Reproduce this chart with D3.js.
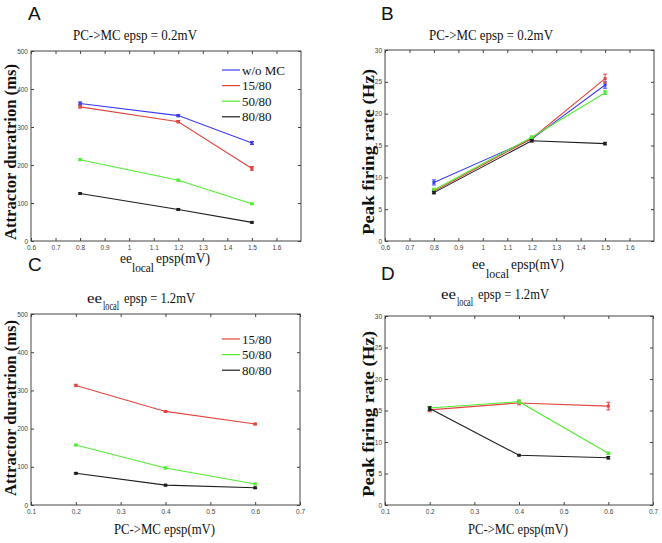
<!DOCTYPE html>
<html><head><meta charset="utf-8">
<script src="https://cdn.jsdelivr.net/npm/d3@7"></script>
<style>body{margin:0;background:#fff}svg{display:block}</style>
</head><body>
<script>
// ---------- data ----------
const seriesNames = ["w/o MC","15/80","50/80","80/80"];
const seriesColors = ["#3b3bf0","#e0453f","#52ec33","#1e1e1e"];

const xA = [0.8,1.2,1.5];
const durA = [[362,330,258],[353,314,191],[214,160,98],[125,83,49]];
const durAErr = [[4,3,4],[3,3,5],[2,3,2],[2,2,2]];

const xB = [0.8,1.2,1.5];
const rateB = [[9.2,16.0,24.5],[7.8,16.1,25.5],[8.0,16.3,23.3],[7.6,15.75,15.3]];
const rateBErr = [[0.4,0.2,0.5],[0.3,0.2,0.7],[0.3,0.2,0.3],[0.2,0.2,0.2]];

const xC = [0.2,0.4,0.6];
const durC = [[313,245,212],[157,97,55],[83,52,45]];
const durCErr = [[3,2,2],[2,2,2],[2,2,2]];

const xD = [0.2,0.4,0.6];
const rateD = [[15.1,16.2,15.7],[15.4,16.4,8.2],[15.3,7.9,7.5]];
const rateDErr = [[0.3,0.3,0.6],[0.2,0.3,0.2],[0.3,0.1,0.2]];

const xTicksAB = [0.6,0.7,0.8,0.9,1,1.1,1.2,1.3,1.4,1.5,1.6];
const xTicksCD = [0.1,0.2,0.3,0.4,0.5,0.6,0.7];
const yTicksDur = [0,100,200,300,400,500];
const yTicksRate = [0,5,10,15,20,25,30];

// ---------- drawing ----------
const W=662,H=543;
const svg=d3.select("body").append("svg").attr("width",W).attr("height",H);
const serif="Liberation Serif, Times New Roman, DejaVu Serif, serif";

function panel(o){
  const x=d3.scaleLinear().domain(o.xd).range([o.l,o.r]);
  const y=d3.scaleLinear().domain(o.yd).range([o.b,o.t]);
  const g=svg.append("g");
  g.append("rect").attr("x",o.l).attr("y",o.t).attr("width",o.r-o.l).attr("height",o.b-o.t)
    .attr("fill","none").attr("stroke","#444").attr("stroke-width",1);
  const fmt=d=>String(d);
  const bx=g.append("g").attr("transform",`translate(0,${o.b})`)
    .call(d3.axisBottom(x).tickValues(o.xt).tickSize(-3).tickPadding(4).tickFormat(fmt));
  const tx=g.append("g").attr("transform",`translate(0,${o.t})`)
    .call(d3.axisTop(x).tickValues(o.xt).tickSize(-3).tickFormat(""));
  const ly=g.append("g").attr("transform",`translate(${o.l},0)`)
    .call(d3.axisLeft(y).tickValues(o.yt).tickSize(-3).tickPadding(3).tickFormat(fmt));
  const ry=g.append("g").attr("transform",`translate(${o.r},0)`)
    .call(d3.axisRight(y).tickValues(o.yt).tickSize(-3).tickFormat(""));
  [bx,tx,ly,ry].forEach(a=>{a.select(".domain").remove();
    a.selectAll("line").attr("stroke","#444");
    a.selectAll("text").attr("font-family","Liberation Sans Narrow, Liberation Sans, Arial, sans-serif")
      .attr("font-size",6.5).attr("fill","#444");});
  o.series.forEach((vals,i)=>{
    const col=o.colors[i];
    const pts=o.xs.map((xv,j)=>({x:xv,y:vals[j],e:o.errs[i][j]}));
    g.append("path").datum(pts).attr("fill","none").attr("stroke",col).attr("stroke-width",1.1)
      .attr("d",d3.line().x(d=>x(d.x)).y(d=>y(d.y)));
    const eg=g.append("g").attr("stroke",col).attr("stroke-width",1);
    pts.forEach(d=>{
      const cx=x(d.x),y1=y(d.y-d.e),y2=y(d.y+d.e);
      eg.append("line").attr("x1",cx).attr("x2",cx).attr("y1",y1).attr("y2",y2);
      eg.append("line").attr("x1",cx-2).attr("x2",cx+2).attr("y1",y1).attr("y2",y1);
      eg.append("line").attr("x1",cx-2).attr("x2",cx+2).attr("y1",y2).attr("y2",y2);
      g.append("rect").attr("x",cx-1.5).attr("y",y(d.y)-1.5).attr("width",3).attr("height",3).attr("fill",col);
    });
  });
  if(o.legend){
    o.legend.names.forEach((n,i)=>{
      const yy=o.legend.y+i*15.6;
      g.append("line").attr("x1",o.legend.x).attr("x2",o.legend.x+18).attr("y1",yy).attr("y2",yy)
        .attr("stroke",o.legend.colors[i]).attr("stroke-width",1.2);
      g.append("text").attr("x",o.legend.x+20).attr("y",yy+4.5).attr("font-family",serif)
        .attr("font-size",13).attr("fill","#111").text(n);
    });
  }
  svg.append("text").attr("transform",`translate(${o.ylx},${o.ylc}) rotate(-90)`)
    .attr("x",-o.yll/2).attr("textLength",o.yll).attr("lengthAdjust","spacingAndGlyphs")
    .attr("font-family",serif).attr("font-weight","bold")
    .attr("font-size",16).attr("fill","#111").text(o.ylab);
}

// pieces: [text, x, width, baseline, size]
function pieces(list){
  list.forEach(p=>{
    svg.append("text").attr("x",p[1]).attr("y",p[3]).attr("font-family",serif)
      .attr("font-size",p[4]).attr("fill","#111")
      .attr("textLength",p[2]).attr("lengthAdjust","spacingAndGlyphs").text(p[0]);
  });
}
function letter(x,y,s){
  svg.append("text").attr("x",x).attr("y",y).attr("font-family","Liberation Sans, Arial, sans-serif")
    .attr("font-size",19).attr("fill","#111").text(s);
}

panel({l:31,r:301,t:51,b:241,xd:[0.6,1.7],yd:[0,500],xt:xTicksAB,yt:yTicksDur,
  xs:xA,series:durA,errs:durAErr,colors:seriesColors,ylx:16,ylc:152,yll:176,ylab:"Attractor duratrion (ms)",
  legend:{x:222,y:70,names:seriesNames,colors:seriesColors}});
panel({l:385,r:654,t:50,b:241,xd:[0.6,1.7],yd:[0,30],xt:xTicksAB,yt:yTicksRate,
  xs:xB,series:rateB,errs:rateBErr,colors:seriesColors,ylx:374,ylc:152,yll:166,ylab:"Peak firing rate (Hz)"});
panel({l:31,r:300,t:314,b:505,xd:[0.1,0.7],yd:[0,500],xt:xTicksCD,yt:yTicksDur,
  xs:xC,series:durC,errs:durCErr,colors:seriesColors.slice(1),ylx:16,ylc:408,yll:176,ylab:"Attractor duratrion (ms)",
  legend:{x:222,y:339,names:seriesNames.slice(1),colors:seriesColors.slice(1)}});
panel({l:385,r:653,t:316,b:505,xd:[0.1,0.7],yd:[0,30],xt:xTicksCD,yt:yTicksRate,
  xs:xD,series:rateD,errs:rateDErr,colors:seriesColors.slice(1),ylx:374,ylc:414,yll:166,ylab:"Peak firing rate (Hz)"});

// titles
pieces([["PC->MC epsp = 0.2mV",73,124,40,15]]);
pieces([["PC->MC epsp = 0.2mV",429,124,40,15]]);
pieces([["ee",87,15,303,15],["local",103,16,310,12],["epsp = 1.2mV",124,71,303,15]]);
pieces([["ee",441,15,299,15],["local",457,16,306,12],["epsp = 1.2mV",478,71,299,15]]);
// x labels
pieces([["ee",120,12,263,14],["local",132,22,272,12],["epsp(mV)",156,54,263,14]]);
pieces([["ee",472,13,269,14],["local",486,23,278,12],["epsp(mV)",511,53,269,14]]);
pieces([["PC->MC epsp(mV)",114,101,534,15]]);
pieces([["PC->MC epsp(mV)",468,100,534,15]]);
// panel letters
letter(28,20,"A");
letter(381,20,"B");
letter(28,271,"C");
letter(381,280,"D");
</script>
</body></html>
